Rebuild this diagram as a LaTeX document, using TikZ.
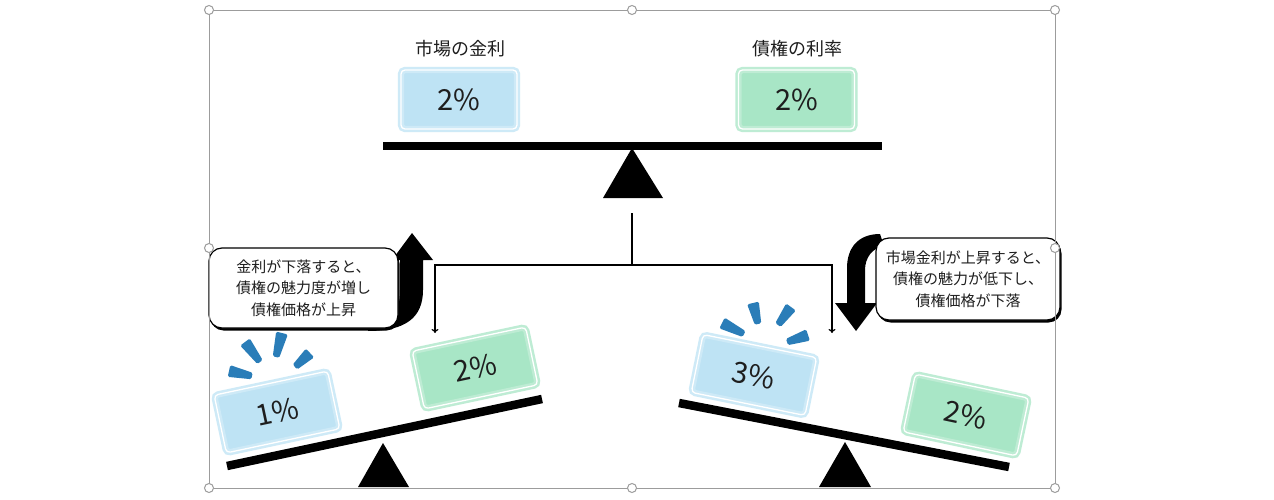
\documentclass[tikz,border=0pt]{standalone}
\usepackage{fontspec}
\setmainfont{Noto Sans CJK JP}
\usetikzlibrary{calc,arrows.meta,shadows}
\definecolor{bfill}{HTML}{BEE3F4}
\definecolor{gfill}{HTML}{A8E6C6}
\definecolor{burstc}{HTML}{2A7DB8}
\definecolor{framec}{HTML}{9C9C9C}
\definecolor{txt}{HTML}{1E1E1E}
\newcommand{\burstdash}[2]{%
  \fill[burstc, rounded corners=1.5pt] ($(#1)!6pt!90:(#2)$) -- ($(#1)!6pt!-90:(#2)$) -- ($(#2)!3.3pt!90:(#1)$) -- ($(#2)!3.3pt!-90:(#1)$) -- cycle;}
\begin{document}
\begin{tikzpicture}[x=1pt,y=-1pt,
  pbox/.style={rounded corners=4pt, minimum width=116pt, minimum height=59pt, line width=2.5pt, double=white, double distance=1.3pt, inner sep=0pt, text=txt, font=\fontsize{29}{30}\selectfont},
  bluebox/.style={pbox, fill=bfill, draw=bfill!75!white},
  greenbox/.style={pbox, fill=gfill, draw=gfill!75!white},
  toplabel/.style={text=txt, font=\fontsize{18}{22}\selectfont, inner sep=0pt},
  beam/.style={line width=8.5pt, black},
  fulcrum/.style={fill=black},
  conn/.style={line width=1.2pt, black},
  callout/.style={draw=black, line width=1.2pt, fill=white, rounded corners=13pt, align=center, text=txt, inner sep=0pt, font=\fontsize{15}{21.5}\selectfont, drop shadow={shadow xshift=1.5pt, shadow yshift=-2.5pt, opacity=1, fill=black}},
  bigarrow/.style={fill=black},
  selframe/.style={draw=framec, line width=0.9pt},
  handle/.style={circle, draw=framec, line width=1pt, fill=white, minimum size=9pt, inner sep=0pt}
]
\useasboundingbox (0,0) rectangle (1274,500);
\fill[white] (0,0) rectangle (1274,500);

% ---------- top seesaw ----------
\node[toplabel] (lbl1) at (460,49) {市場の金利};
\node[toplabel] (lbl2) at (797,49) {債権の利率};
\node[bluebox] (tb) at (459,99.5) {2\%};
\node[greenbox] (tg) at (796.5,99.5) {2\%};
\draw[beam] (383,146) -- (882,146);
\fill[fulcrum] (632,148) -- (663,198) -- (603,198) -- cycle;

% ---------- connectors ----------
\coordinate (top) at (632,213);
\coordinate (junc) at (632,265);
\coordinate (lt) at (435,333);
\coordinate (rt) at (832,333);
\draw[conn] (top) -- (junc);
\draw[conn, -{To[length=4pt,width=7pt]}] (junc) -| (lt);
\draw[conn, -{To[length=4pt,width=7pt]}] (junc) -| (rt);

% ---------- left callout ----------
\fill[bigarrow] (368,331) .. controls (405,331) and (423,318) .. (423,290)
  -- (423,260) -- (433,260) -- (412,233) -- (392,260) -- (400,260) -- (400,290)
  .. controls (400,315) and (390,325) .. (368,325) -- cycle;
\node[callout, minimum width=189pt, minimum height=80pt] (lc) at (303.5,288)
  {金利が下落すると、\\債権の魅力度が増し\\債権価格が上昇};

% ---------- right callout ----------
\fill[bigarrow] (880,234) .. controls (858,234) and (847,248) .. (847,268)
  -- (847,303) -- (835,303) -- (856,331) -- (877,303) -- (865,303) -- (865,270)
  .. controls (865,258) and (872,248) .. (884,246) -- cycle;
\node[callout, minimum width=184pt, minimum height=82pt] (rc) at (968,279)
  {市場金利が上昇すると、\\債権の魅力が低下し、\\債権価格が下落};

% ---------- bottom left seesaw ----------
\draw[beam] (227,466) -- (542,399);
\fill[fulcrum] (383,443) -- (409,487) -- (358,487) -- cycle;
\node[bluebox, rotate=12] (lb) at (277,412) {1\%};
\node[greenbox, rotate=12] (lg) at (475,368) {2\%};
\burstdash{229,371}{252,376}
\burstdash{245,342}{260,362}
\burstdash{282,333}{276,357}
\burstdash{310,353}{295,367}

% ---------- bottom right seesaw ----------
\draw[beam] (679,403) -- (1009,467);
\fill[fulcrum] (845,442) -- (871,487) -- (819,487) -- cycle;
\node[bluebox, rotate=-11.5] (rb) at (754,375) {3\%};
\node[greenbox, rotate=-12] (rg) at (966,415) {2\%};
\burstdash{722,323}{744,334}
\burstdash{753,303}{758,324}
\burstdash{791,307}{778,325}
\burstdash{808,335}{787,342}

% ---------- selection frame ----------
\draw[selframe] (209,10) rectangle (1055,488);
\foreach \hx/\hy [count=\i] in {209/10,632/10,1055/10,209/248,1055/248,209/488,632/488,1055/488}
  \node[handle] (h\i) at (\hx,\hy) {};
\end{tikzpicture}
\end{document}
